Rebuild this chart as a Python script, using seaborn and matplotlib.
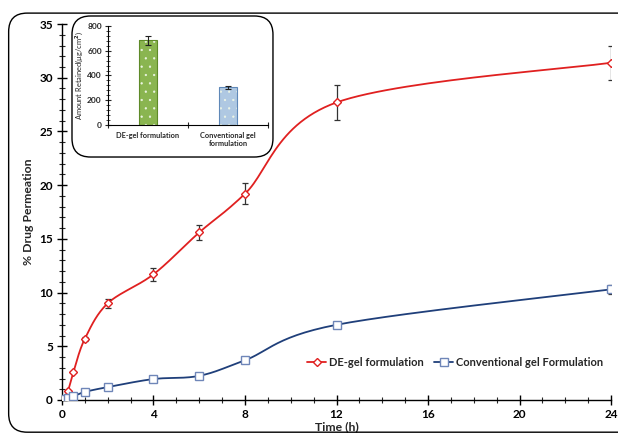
import numpy as np
import pandas as pd
import matplotlib
matplotlib.use("Agg")
import matplotlib.pyplot as plt
import seaborn as sns
from matplotlib.patches import FancyBboxPatch
from matplotlib.ticker import MultipleLocator
from matplotlib.lines import Line2D

# ---- data ----
time_h = [0, 0.25, 0.5, 1, 2, 4, 6, 8, 12, 24]
de_gel = [0.0, 0.8, 2.6, 5.7, 9.0, 11.7, 15.6, 19.2, 27.7, 31.4]
de_gel_err = [0.0, 0.0, 0.0, 0.2, 0.4, 0.6, 0.7, 1.0, 1.6, 1.6]
conv_gel = [0.1, 0.2, 0.35, 0.75, 1.2, 1.95, 2.25, 3.7, 7.0, 10.3]
conv_gel_err = [0.0, 0.0, 0.0, 0.05, 0.1, 0.1, 0.1, 0.15, 0.3, 0.45]

series_names = ["DE-gel formulation", "Conventional gel Formulation"]

bar_labels = ["DE-gel formulation", "Conventional gel\nformulation"]
bar_values = [685, 305]
bar_errors = [35, 12]

RED = "#E02020"
BLUE = "#1F3F7A"

sns.set_style("white")
plt.rcParams["font.family"] = ["Lato", "DejaVu Sans"]
plt.rcParams["font.weight"] = "bold"
plt.rcParams["hatch.linewidth"] = 0.4


def smooth(xs, ys, xr, yr, n=30):
    """Excel-like smoothed line (Catmull-Rom Bezier) in normalized space."""
    x = np.asarray(xs, float) / xr
    y = np.asarray(ys, float) / yr
    px, py = [], []
    m = len(x)
    for i in range(m - 1):
        p0 = (x[max(i - 1, 0)], y[max(i - 1, 0)])
        p1 = (x[i], y[i])
        p2 = (x[i + 1], y[i + 1])
        p3 = (x[min(i + 2, m - 1)], y[min(i + 2, m - 1)])
        c1 = (p1[0] + (p2[0] - p0[0]) / 6, p1[1] + (p2[1] - p0[1]) / 6)
        c2 = (p2[0] - (p3[0] - p1[0]) / 6, p2[1] - (p3[1] - p1[1]) / 6)
        t = np.linspace(0, 1, n)
        bx = (1 - t) ** 3 * p1[0] + 3 * (1 - t) ** 2 * t * c1[0] + 3 * (1 - t) * t ** 2 * c2[0] + t ** 3 * p2[0]
        by = (1 - t) ** 3 * p1[1] + 3 * (1 - t) ** 2 * t * c1[1] + 3 * (1 - t) * t ** 2 * c2[1] + t ** 3 * p2[1]
        px.extend(bx)
        py.extend(by)
    return np.array(px) * xr, np.array(py) * yr


fig = plt.figure(figsize=(6.18, 4.37), dpi=100)

# outer rounded frame
frame = FancyBboxPatch((0.014, 0.011), 1.05, 0.959, boxstyle="round,pad=0,rounding_size=0.03",
                       transform=fig.transFigure, fill=False, edgecolor="black", linewidth=1.0,
                       mutation_aspect=618 / 437)
fig.patches.append(frame)

ax = fig.add_axes([0.1003, 0.0847, 0.8884, 0.8603])

for ys, err, col, mk, name in [(de_gel, de_gel_err, RED, "D", series_names[0]),
                               (conv_gel, conv_gel_err, BLUE, "s", series_names[1])]:
    sx, sy = smooth(time_h, ys, 24, 35)
    sns.lineplot(x=sx, y=sy, ax=ax, color=col, linewidth=1.3, sort=False, estimator=None)
    ax.errorbar(time_h, ys, yerr=err, fmt="none", ecolor="#333333", elinewidth=0.9,
                capsize=2.5, capthick=0.9, zorder=3)
    ax.plot(time_h, ys, linestyle="none", marker=mk, markersize=4.3 if mk == "D" else 5.8,
            markerfacecolor="white", markeredgecolor=col if mk == "D" else "#6F86B8",
            markeredgewidth=1.0, zorder=4)

ax.set_xlim(0, 24)
ax.set_ylim(0, 35)
ax.xaxis.set_major_locator(MultipleLocator(4))
ax.xaxis.set_minor_locator(MultipleLocator(1))
ax.yaxis.set_major_locator(MultipleLocator(5))
ax.yaxis.set_minor_locator(MultipleLocator(1))
for s in ["top", "right"]:
    ax.spines[s].set_visible(False)
for s in ["left", "bottom"]:
    ax.spines[s].set_color("black")
    ax.spines[s].set_linewidth(1.0)
ax.tick_params(axis="both", which="major", direction="inout", length=7, width=1.0,
               labelsize=8.5, colors="black", pad=3, bottom=True, left=True)
ax.tick_params(axis="both", which="minor", direction="inout", length=4, width=0.8,
               bottom=True, left=True)
for lab in ax.get_xticklabels() + ax.get_yticklabels():
    lab.set_fontweight("bold")
ax.set_xlabel("Time (h)", fontsize=8.8, fontweight="bold", labelpad=1)
ax.set_ylabel("% Drug Permeation", fontsize=8.8, fontweight="bold", labelpad=4)
ax.patch.set_alpha(0)

handles = [Line2D([0], [0], color=RED, marker="D", markersize=4.3, markerfacecolor="white",
                  markeredgecolor=RED, linewidth=1.3),
           Line2D([0], [0], color=BLUE, marker="s", markersize=5.5, markerfacecolor="white",
                  markeredgecolor="#6F86B8", linewidth=1.3)]
ax.legend(handles, series_names, loc="center", bbox_to_anchor=(0.716, 0.101), ncol=2,
          frameon=False, handlelength=1.7, handletextpad=0.2, columnspacing=1.0,
          prop={"weight": "bold", "size": 8})

# inset box
box = FancyBboxPatch((0.1165, 0.6407), 0.3252, 0.3227, boxstyle="round,pad=0,rounding_size=0.03",
                     transform=fig.transFigure, facecolor="white", edgecolor="black", linewidth=1.0,
                     mutation_aspect=618 / 437, zorder=5)
fig.patches.append(box)

ins = fig.add_axes([0.1748, 0.714, 0.2589, 0.2265])
ins.set_zorder(10)
df = pd.DataFrame({"label": bar_labels, "value": bar_values})
sns.barplot(data=df, x="label", y="value", ax=ins, width=0.22,
            palette=["#8CC63F", "#A7C8EA"], hue="label", legend=False, errorbar=None)
edgecols = ["#5E8A28", "#5F88B8"]
for p, ec in zip(ins.patches, edgecols):
    p.set_edgecolor("#EEF6E6")
    p.set_hatch("..")
    p.set_linewidth(0)
    x0, w, h = p.get_x(), p.get_width(), p.get_height()
    ins.add_patch(plt.Rectangle((x0, 0), w, h, fill=False, edgecolor=ec, linewidth=0.8, zorder=3))
ins.errorbar(range(len(bar_values)), bar_values, yerr=bar_errors, fmt="none", ecolor="#222222",
             elinewidth=0.8, capsize=2.5, capthick=0.8, zorder=4)
ins.set_ylim(0, 800)
ins.set_xlim(-0.5, 1.5)
ins.yaxis.set_major_locator(MultipleLocator(200))
ins.yaxis.set_minor_locator(MultipleLocator(40))
for s in ["top", "right"]:
    ins.spines[s].set_visible(False)
for s in ["left", "bottom"]:
    ins.spines[s].set_color("black")
    ins.spines[s].set_linewidth(0.8)
ins.tick_params(axis="y", which="major", direction="inout", length=5, width=0.8, labelsize=6,
                left=True, pad=2)
ins.tick_params(axis="y", which="minor", direction="inout", length=2.5, width=0.6, left=True)
ins.set_xticks([-0.5, 0.5, 1.5], minor=True)
ins.tick_params(axis="x", which="minor", direction="inout", length=5, width=0.8, bottom=True)
ins.tick_params(axis="x", which="major", length=0, labelsize=5.3, pad=5)
for lab in ins.get_xticklabels() + ins.get_yticklabels():
    lab.set_fontweight("bold")
ins.set_xlabel("")
ins.set_ylabel("Amount Retained(µg/cm$^2$)", fontsize=5.4, fontweight="normal", labelpad=1.5)

fig.savefig("out.png", dpi=100)
